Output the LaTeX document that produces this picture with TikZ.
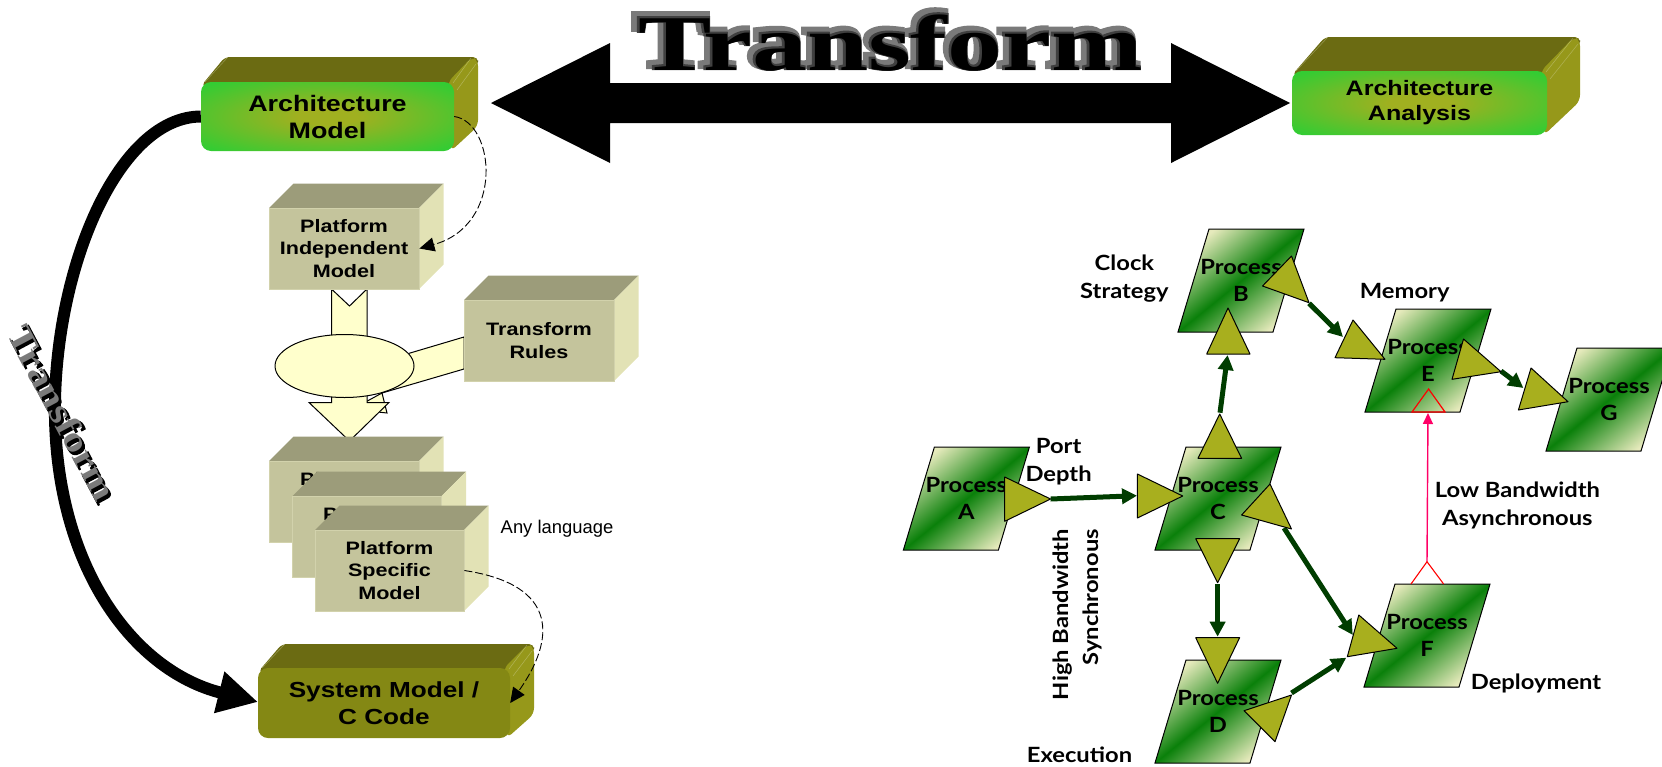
\documentclass[tikz,border=0pt]{standalone}
\usepackage{fontspec}
\usetikzlibrary{arrows.meta,shapes.geometric}
\setmainfont{Liberation Sans}
\newfontfamily\labfont[FakeStretch=1.2]{Liberation Sans}
\newfontfamily\handfont[FakeStretch=1.13]{Lato}
\newfontfamily\wordfont{Liberation Serif}
\newfontface\wordheavy[FakeBold=8]{Liberation Serif Bold}
\newfontface\wordmid[FakeBold=3]{Liberation Serif Bold}
\definecolor{ctop}{HTML}{9C9C7A}
\definecolor{cside}{HTML}{E2E2B5}
\definecolor{cface}{HTML}{C4C49C}
\definecolor{cedge}{HTML}{D2D2AC}
\definecolor{otop}{HTML}{6B6B12}
\definecolor{oside}{HTML}{96981A}
\definecolor{oface}{HTML}{848814}
\definecolor{gouter}{HTML}{33CC33}
\definecolor{gcenter}{HTML}{A0B020}
\definecolor{cream}{HTML}{FFFFCC}
\definecolor{portc}{HTML}{A8AF1E}
\definecolor{darkg}{HTML}{003D00}
\definecolor{pink}{HTML}{FF0066}
\definecolor{plight}{HTML}{E6EABC}
\definecolor{pgreen}{HTML}{0A800A}
\pgfdeclareverticalshading{procshade}{100bp}{color(0bp)=(plight); color(25bp)=(plight); color(50bp)=(pgreen); color(75bp)=(plight); color(100bp)=(plight)}
\pgfdeclareradialshading{glowshade}{\pgfpoint{0bp}{0bp}}{color(0bp)=(gcenter); color(6bp)=(gcenter); color(33bp)=(gouter); color(50bp)=(gouter)}
\tikzset{
  cubeface/.style={fill=cface,draw=cedge,line width=.8pt,inner sep=0pt,align=center,font=\labfont\bfseries\fontsize{18}{22.5}\selectfont},
  bigface/.style={inner sep=0pt,align=center},
  proclabel/.style={inner sep=0pt,align=center,font=\handfont\bfseries\fontsize{21}{27.5}\selectfont},
  hand/.style={inner sep=0pt,align=center,font=\handfont\bfseries\fontsize{21}{28}\selectfont},
  port/.style={fill=portc,draw=black,line width=1pt,line join=round},
  green arrow/.style={draw=darkg,line width=5pt,-{Triangle[length=15pt,width=15pt]}},
  dash link/.style={draw=black,line width=.9pt,dash pattern=on 8pt off 3pt,-{Triangle[length=15pt,width=14pt]}},
  block/.style={fill=cream,draw=black,line width=1pt,line join=miter},
  topword/.style={inner sep=0pt,anchor=base,transform shape,xscale=1.39},
  leftword/.style={inner sep=0pt,transform shape,rotate=-62,xscale=1.2},
}
% flat cube: name x1 y1 x2 y2 text
\newcommand\flatcube[6]{%
  \fill[ctop] (#2,#3) -- (#2+24.5,#3-24.5) -- (#4+24.5,#3-24.5) -- (#4,#3) -- cycle;
  \fill[cside] (#4,#3) -- (#4+24.5,#3-24.5) -- (#4+24.5,#5-24.5) -- (#4,#5) -- cycle;
  \node[cubeface,minimum width={#4-#2},minimum height={#5-#3}] (#1) at ({(#2+#4)/2},{(#3+#5)/2}) {#6};
}
% rounded solid back: x1 y1 x2 y2 dx dy
\newcommand\roundback[6]{%
  \fill[otop,rounded corners=5pt] (#1,#2+4) -- (#1+#5,#2-#6) -- (#3+#5,#2-#6) -- (#3+#5,#2-#6+8) -- (#3,#2+6) -- cycle;
  \fill[oside,rounded corners=6pt] (#3-6,#2) -- (#3+#5-6,#2-#6) -- (#3+#5,#2-#6+3) -- (#3+#5,#4-#6) -- (#3-3,#4) -- cycle;
  \draw[white!70!oside,line width=.5pt,opacity=.4] (#3-1,#2+1) -- (#3+#5-7,#2-#6+1) (#3+3,#2+8) -- (#3+#5-2,#2-#6+7) (#1+4,#2) -- (#1+#5+2,#2-#6+1);
}
\begin{document}
\begin{tikzpicture}[x=1pt,y=-1pt]
\useasboundingbox (0,0) rectangle (1662,766);
\clip (0,0) rectangle (1662,766);

% big double arrow
\fill[black] (491,103) -- (610,43) -- (610,83) -- (1171,83) -- (1171,43) -- (1290,103) -- (1171,163) -- (1171,123) -- (610,123) -- (610,163) -- cycle;

% Transform word art (top)
\node[topword,text=black!52,font=\wordheavy\fontsize{79}{79}\selectfont] (topback) at (886,66) {Transform};
\node[topword,text=black!75,font=\wordmid\fontsize{79}{79}\selectfont] (topmid) at (889,69) {Transform};
\node[topword,text=black,font=\wordfont\bfseries\fontsize{79}{79}\selectfont] (topfront) at (890.5,70.5) {Transform};

% Architecture Model
\roundback{201}{82}{454}{151}{24}{25}
\node[bigface,minimum width=253pt,minimum height=69pt,rounded corners=10pt,shading=glowshade,font=\labfont\bfseries\fontsize{22.4}{27}\selectfont] (arch) at (327.5,116.5) {Architecture\\Model};

% Architecture Analysis
\roundback{1292}{71}{1547}{135}{33}{34}
\node[bigface,minimum width=255pt,minimum height=64pt,rounded corners=10pt,shading=glowshade,font=\labfont\bfseries\fontsize{20.9}{25}\selectfont] (analysis) at (1419.5,103) {Architecture\\Analysis};

% Thick Transform curve
\coordinate (curvemid) at (55,400);
\coordinate (sysw) at (258,702);
\draw[black,line width=12pt,-{Triangle[length=40pt,width=40pt]}] (arch.west) .. controls (120,117) and (58,260) .. (curvemid) .. controls (52,560) and (130,670) .. (sysw);

% Left Transform word art
\node[leftword,text=black,font=\wordmid\fontsize{35}{35}\selectfont] (leftback) at (64,415) {Transform};
\node[leftword,text=black!52,font=\wordfont\bfseries\fontsize{35}{35}\selectfont] (leftfront) at (62,413) {Transform};

% block arrows into and out of the ellipse
\draw[block] (464,337) -- (400,356) -- (382,393) -- (387,413) -- (378,412) -- (360,405) -- (382,393) -- (464,369) -- cycle;
\draw[block] (331.5,289) -- (349.5,306) -- (367,289) -- (367,402.5) -- (389,402.5) -- (349.5,441) -- (309,402.5) -- (331.5,402.5) -- cycle;
\node[ellipse,block,minimum width=139pt,minimum height=63pt,inner sep=0pt] (merge) at (344.5,366) {};

% grey cubes
\flatcube{pim}{269}{208}{419}{289}{Platform\\Independent\\Model}
\flatcube{rules}{464}{300}{614}{381}{Transform\\Rules}
\flatcube{psma}{269}{461}{419}{542}{Platform\\Specific\\Model}
\flatcube{psmb}{292.5}{496}{441.5}{577}{Platform\\Specific\\Model}
\flatcube{psmc}{315}{530}{464}{611}{Platform\\Specific\\Model}

\node[inner sep=0pt,font=\fontsize{18.4}{22}\selectfont] (anylang) at (557,529) {Any language};

% System Model
\roundback{258}{668}{510}{738}{24}{24}
\node[bigface,minimum width=252pt,minimum height=70pt,rounded corners=10pt,fill=oface,font=\labfont\bfseries\fontsize{21.8}{27}\selectfont] (sys) at (384,703) {System Model /\\C Code};

% dashed links
\draw[dash link] (arch.east) .. controls (495,122) and (505,225) .. (pim.east);
\draw[dash link] (psmc.east) .. controls (560,585) and (555,640) .. (sys.east);

% process parallelograms
\foreach \nm/\l/\t in {a/903.4/447,b/1178/229,c/1155/447,d/1155/660,e/1365/309,f/1364/584,g/1546/348}{
  \path[shading=procshade,shading angle=39] (\l+31,\t) -- (\l+126,\t) -- (\l+95,\t+103) -- (\l,\t+103) -- cycle;
  \draw[black,line width=1pt] (\l+31,\t) -- (\l+126,\t) -- (\l+95,\t+103) -- (\l,\t+103) -- cycle;
  \coordinate (shape\nm) at (\l+63,\t+51.5);
}
\node[proclabel] (pa) at (shapea) {Process\\A};
\node[proclabel] (pb) at (shapeb) {Process\\B};
\node[proclabel] (pc) at (shapec) {Process\\C};
\node[proclabel] (pd) at (shaped) {Process\\D};
\node[proclabel] (pe) at (shapee) {Process\\E};
\node[proclabel] (pf) at (shapef) {Process\\F};
\node[proclabel] (pg) at (shapeg) {Process\\G};

% ports
\coordinate (aout) at (1050.6,499);
\coordinate (cin) at (1137,495.7);
\coordinate (cup) at (1220,412.7);
\coordinate (bin) at (1227.6,355);
\coordinate (bout) at (1309,303.3);
\coordinate (ein) at (1343,337);
\coordinate (eout) at (1501,371);
\coordinate (gin) at (1523.4,388);
\coordinate (cdown) at (1217.6,584);
\coordinate (dtop) at (1217.6,636.7);
\coordinate (cright) at (1284,528);
\coordinate (fin) at (1352.8,635);
\coordinate (dright) at (1291.5,693);
\coordinate (fin2) at (1346.3,657.7);
\coordinate (fup) at (1427,561.7);
\coordinate (ebot) at (1428,413);

\draw[green arrow] (aout) -- (cin);
\draw[green arrow] (cup) -- (bin);
\draw[green arrow] (bout) -- (ein);
\draw[green arrow] (eout) -- (gin);
\draw[green arrow] (cdown) -- (dtop);
\draw[green arrow] (cright) -- (fin);
\draw[green arrow] (dright) -- (fin2);
\draw[pink,line width=1.4pt,-{Triangle[length=11pt,width=10pt]}] (fup) -- (ebot);

\draw[port] (1228,308) -- (1206.7,354) -- (1250,354) -- cycle;
\draw[port] (1291.5,256) -- (1262.5,286) -- (1309,302.7) -- cycle;
\draw[port] (1353,320) -- (1335,357.7) -- (1385,359.3) -- cycle;
\draw[port] (1463.5,339) -- (1452,379.3) -- (1501,371.7) -- cycle;
\draw[port] (1531,368) -- (1518.4,410) -- (1568,401.7) -- cycle;
\draw[port] (1004.7,477) -- (1004.7,521.3) -- (1050.6,499) -- cycle;
\draw[port] (1137.4,474) -- (1137.4,518) -- (1182.7,496) -- cycle;
\draw[port] (1219.7,414) -- (1198,458.3) -- (1241.6,458.3) -- cycle;
\draw[port] (1270,484) -- (1241.6,515) -- (1291.5,529) -- cycle;
\draw[port] (1195.7,538.7) -- (1239.6,538.7) -- (1217.6,582.7) -- cycle;
\draw[port] (1195.7,637.7) -- (1239.6,637.7) -- (1217.6,683.3) -- cycle;
\draw[port] (1291.5,695) -- (1244,710.7) -- (1275,741.7) -- cycle;
\draw[port] (1358.8,615) -- (1347.3,656.7) -- (1397,648.3) -- cycle;
\draw[red,line width=1.2pt] (1428.6,389) -- (1412,412) -- (1445,412) -- cycle;
\draw[red,line width=1.1pt] (1411,584) -- (fup) -- (1443.6,584);

% labels
\node[hand] (clock) at (1124.4,279) {Clock\\Strategy};
\node[hand] (memory) at (1404.7,293) {Memory};
\node[hand] (portd) at (1058.6,462) {Port\\Depth};
\node[hand] (lowb) at (1517.4,505.5) {Low Bandwidth\\Asynchronous};
\node[hand,transform shape,rotate=90,align=right,anchor=east,font=\handfont\bfseries\fontsize{21}{30}\selectfont] (highb) at (1077,529) {High Bandwidth\\Synchronous};
\node[hand] (exec) at (1079.5,755) {Execution};
\node[hand] (deploy) at (1536,683) {Deployment};
\end{tikzpicture}
\end{document}
